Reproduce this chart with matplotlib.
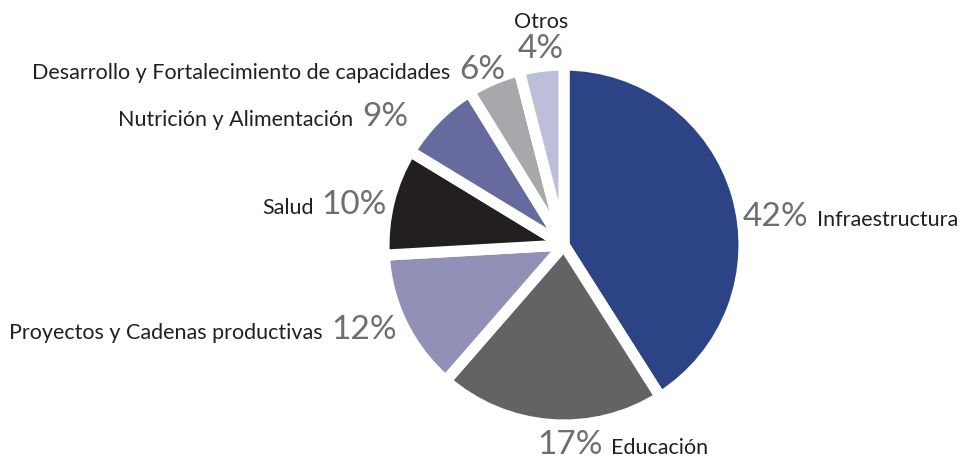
import matplotlib
matplotlib.use("Agg")
import matplotlib.pyplot as plt
from matplotlib.offsetbox import TextArea, HPacker, VPacker, AnnotationBbox

# ---- data ----
categories = ["Infraestructura", "Educación", "Proyectos y Cadenas productivas",
              "Salud", "Nutrición y Alimentación",
              "Desarrollo y Fortalecimiento de capacidades", "Otros"]
# wedge sizes as drawn in the picture (angles measured)
values = [41.0, 20.4, 12.7, 9.6, 7.5, 4.8, 4.0]
# percentage labels as printed
pct_labels = ["42%", "17%", "12%", "10%", "9%", "6%", "4%"]

# ---- style ----
colors = ["#2C4386", "#636365", "#9191B8", "#231F20", "#676A9E", "#A7A8AB", "#BDBED9"]
FONT = "Lato"
name_props = dict(family=FONT, size=15.5, color="#231F20")
pct_props = dict(family=FONT, size=24, color="#6D6E71")

W, H = 965, 462
fig = plt.figure(figsize=(W / 100, H / 100), dpi=100)
ax = fig.add_axes([0, 0, 1, 1])

cx, cy, R = 564, 217, 180
ax.pie(values, colors=colors, startangle=90, counterclock=False,
       center=(cx, cy), radius=R,
       wedgeprops=dict(edgecolor="white", linewidth=8, joinstyle="round"))
ax.set_xlim(0, W)
ax.set_ylim(0, H)
ax.set_aspect("equal")
ax.axis("off")

# label layout: (x, y, side) ; 'L' = name then pct right-aligned, 'R' = pct then name
layout = [(743, 245, "R"), (537, 17, "R"), (397, 132, "L"), (387, 257, "L"),
          (408, 345, "L"), (505, 392, "L"), (541, 424, "C")]

for name, pct, (x, y, side) in zip(categories, pct_labels, layout):
    t_name = TextArea(name, textprops=name_props)
    t_pct = TextArea(pct, textprops=pct_props)
    if side == "R":
        box = HPacker(children=[t_pct, t_name], align="baseline", pad=0, sep=6)
        al = (0, 0.5)
    elif side == "L":
        box = HPacker(children=[t_name, t_pct], align="baseline", pad=0, sep=6)
        al = (1, 0.5)
    else:
        box = VPacker(children=[t_name, t_pct], align="center", pad=0, sep=2)
        al = (0.5, 0.5)
    ab = AnnotationBbox(box, (x, y), xycoords="data", box_alignment=al,
                        frameon=False, pad=0)
    ax.add_artist(ab)

fig.savefig("out.png", dpi=100)
